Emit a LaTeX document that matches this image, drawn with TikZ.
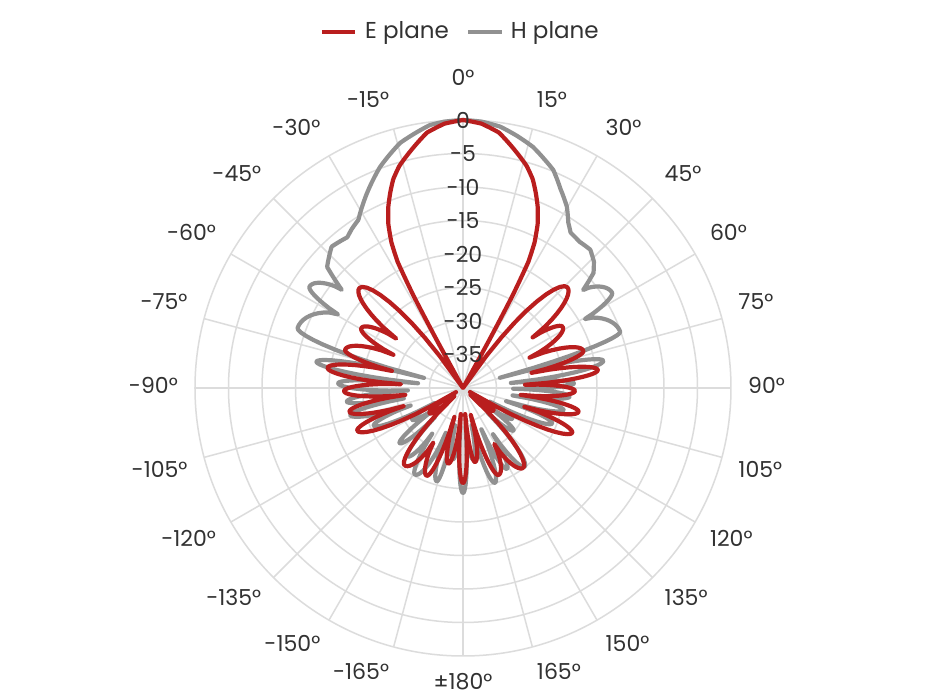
\documentclass[tikz,border=0pt]{standalone}
\usepackage{fontspec}
\setmainfont{Poppins}
\definecolor{eplane}{RGB}{185,30,30}
\definecolor{hplane}{RGB}{145,145,145}
\definecolor{gridc}{RGB}{220,220,220}
\definecolor{txtc}{RGB}{50,50,50}
\tikzset{
  gridline/.style={draw=gridc, line width=1.5pt},
  ecurve/.style={draw=eplane, line width=4.2pt, line join=round},
  hcurve/.style={draw=hplane, line width=4.2pt, line join=round},
  anglab/.style={font=\fontsize{22}{26}\selectfont, text=txtc, inner sep=0pt, text height=16pt, text depth=5pt},
  radlab/.style={font=\fontsize{22}{26}\selectfont, text=txtc, inner sep=0pt},
  legtxt/.style={font=\fontsize{23}{27}\selectfont, text=txtc, inner sep=0pt},
  legline/.style={line width=4pt},
  lobes/.style={domain=0:1, samples=11, variable=\u}
}
\begin{document}
\begin{tikzpicture}[x=1pt,y=1pt]
\useasboundingbox (-463,-308) rectangle (467,388);
\fill[white] (-463,-308) rectangle (467,388);
\coordinate (c) at (0,0);
% grid
\foreach \k in {1,...,8} { \draw[gridline] (c) circle ({33.5*\k}); }
\foreach \t in {0,15,...,345} { \draw[gridline] (c) -- ({90-\t}:268); }
% H plane
\draw[hcurve] (90:268)
 \foreach \b/\rb/\ty [remember=\b as \a (initially 0), remember=\rb as \ra (initially 268)] in {
 4/267/0, 8.1/264/0, 12/258/0, 16.2/251/0, 19.5/243/0, 22.5/236/0, 26/222/0, 29.8/209/0, 32.5/196/0, 34.7/189/0, 38.5/187/0, 42.6/188/0, 46/182/0, 48.6/174/0, 50.8/155/0,
 57.3/177/1, 60.5/140/1, 70.3/167/1, 74.5/38/1, 79/143/1, 84/48/1, 87.6/111/1, 90.8/50/1, 94.6/107/1, 98.5/50/1, 102.4/103/1, 107/45/1, 111.7/96/1, 117/30/1, 122/58/1, 126/30/1, 130/66/1, 135/35/1, 142/100/1, 147/55/1, 151.5/92/1, 156/45/1, 161.4/100/1, 167/38/1, 172/72/1, 176/38/1, 180/105/1,
 184/38/1, 188/72/1, 192/38/1, 195.7/97/1, 201/48/1, 209/99/1, 214/55/1, 219/88/1, 224/40/1, 229/84/1, 233.5/32/1, 238/60/1, 242/32/1, 247/97/1, 251.5/55/1, 256.5/116/1, 260/60/1, 263.3/117/1, 267.5/55/1, 272.2/125/1, 276/45/1, 280.2/149/1, 284.5/40/1, 290/176/1, 300.5/145/1, 303.5/184/1, 309/156/1,
 311.7/182/0, 317.1/193/0, 322.5/190/0, 325/194/0, 328.1/198/0, 333.7/217/0, 339.4/236/0, 345.6/253/0, 352.8/265/0, 356/267/0, 360/268/0}
 { -- plot[lobes] ({90-\a-(\b-\a)*\u}:{\ra+(\rb-\ra)*ifthenelse(\ty==1, ifthenelse(\rb>\ra, sin(90*\u+0.01)^0.7, 1-cos(90*\u-0.01)^0.7), \u)}) } -- cycle;
% E plane
\draw[ecurve] (90:268)
 \foreach \b/\rb/\ty [remember=\b as \a (initially 0), remember=\rb as \ra (initially 268)] in {
 4/265/0, 8/258/0, 12.7/242/0, 16/231/0, 18.5/220/0, 20.5/208/0, 22.4/196/0, 24.5/180/0, 26.2/162/0, 27.4/142/0, 28.2/105/0, 28.7/55/0, 29/0/0, 35/0/0,
 46/145/1, 54/86/1, 58.5/117/1, 65.5/73/1, 72.8/126/1, 77.5/70/1, 82.4/136/1, 87/62/1, 91.5/112/1, 96.8/58/1, 101.6/118/1, 107/64/1, 112.3/118/1, 120/8/1, 126.5/38/1, 133/10/1, 143/100/1, 150.8/64/1, 157.8/94/1, 164/28/1, 170.8/75/1, 175.2/26/1, 180/95/1,
 184.8/26/1, 191/77/1, 196.5/30/1, 202.5/95/1, 208.5/62/1, 217/97/1, 226/12/1, 233/42/1, 239.5/8/1, 248/114/1, 253/62/1, 258.2/116/1, 263.2/58/1, 268.5/119/1, 273.5/62/1, 278.5/137/1, 283.5/73/1, 288/124/1, 295.5/77/1, 300.5/118/1, 306.5/83/1, 314/144/1, 325/0/1,
 331/0/0, 331.3/55/0, 331.8/105/0, 332.6/142/0, 333.8/162/0, 335.5/180/0, 337.6/196/0, 339.5/208/0, 341.5/220/0, 344/231/0, 347.3/242/0, 352/258/0, 356/265/0, 360/268/0}
 { -- plot[lobes] ({90-\a-(\b-\a)*\u}:{\ra+(\rb-\ra)*ifthenelse(\ty==1, ifthenelse(\rb>\ra, sin(90*\u+0.01)^0.7, 1-cos(90*\u-0.01)^0.7), \u)}) } -- cycle;
% radial labels
\foreach \v [count=\i from 0] in {0,-5,-10,-15,-20,-25,-30,-35} {
  \node[radlab] (r\i) at (0,{268-33.5*\i}) {\v};
}
% angular labels
\node[anglab, anchor=south] (a0) at (90:297) {0°};
\foreach \t/\an/\txt [count=\i] in {
 15/south west/15°, 30/south west/30°, 45/south west/45°, 60/south west/60°, 75/south west/75°,
 90/west/90°, 105/north west/105°, 120/north west/120°, 135/north west/135°, 150/north west/150°, 165/north west/165°,
 180/north/±180°, -165/north east/-165°, -150/north east/-150°, -135/north east/-135°, -120/north east/-120°, -105/north east/-105°,
 -90/east/-90°, -75/south east/-75°, -60/south east/-60°, -45/south east/-45°, -30/south east/-30°, -15/south east/-15°} {
  \node[anglab, anchor=\an] (a\i) at ({90-\t}:285) {\txt};
}
% legend
\coordinate (le1) at (-141,356); \coordinate (le2) at (-108,356);
\coordinate (lh1) at (5.3,356); \coordinate (lh2) at (38.7,356);
\draw[legline, draw=eplane] (le1) -- (le2);
\draw[legline, draw=hplane] (lh1) -- (lh2);
\node[legtxt, anchor=base west] (legE) at (-98,349.7) {E plane};
\node[legtxt, anchor=base west] (legH) at (47.7,349.7) {H plane};
\end{tikzpicture}
\end{document}
